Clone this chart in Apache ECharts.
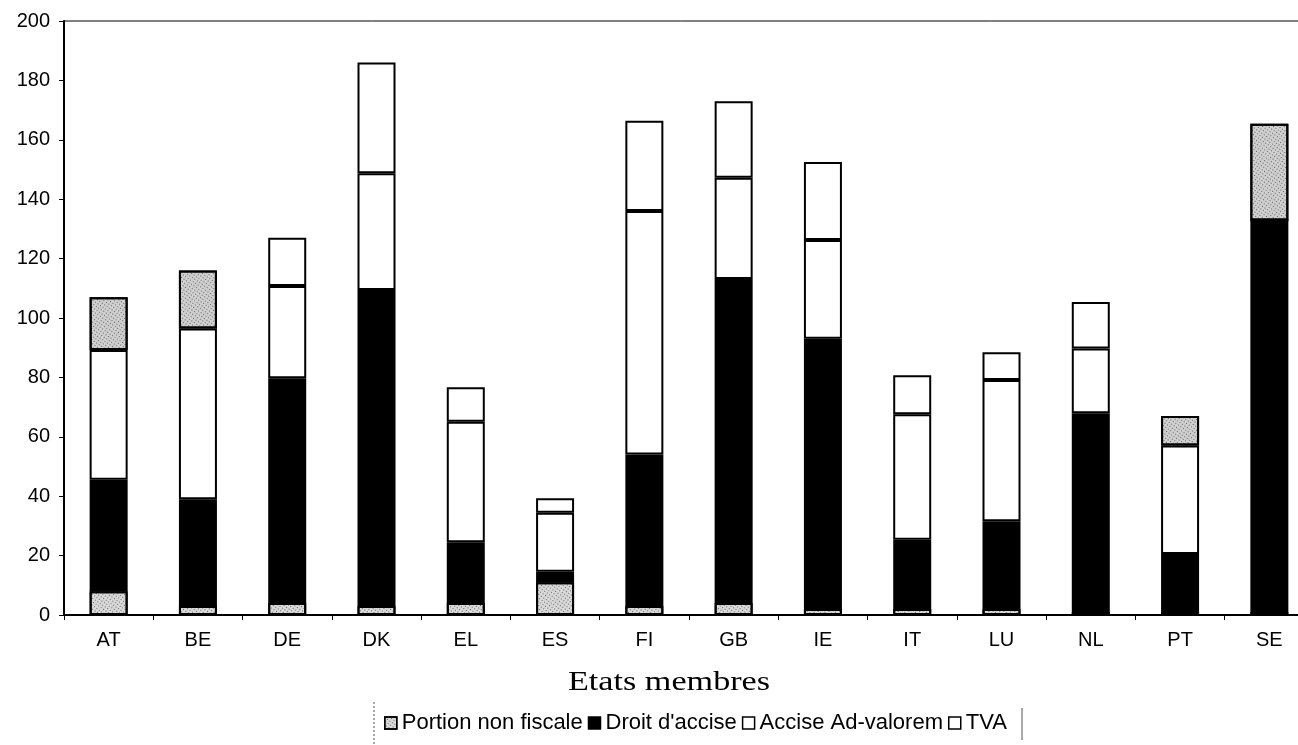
<!DOCTYPE html>
<html>
<head>
<meta charset="utf-8">
<script src="https://cdn.jsdelivr.net/npm/echarts@6/dist/echarts.min.js"></script>
<style>
  html, body { margin: 0; padding: 0; background: #fff; }
  #chart { width: 1298px; height: 745px; }
</style>
</head>
<body>
<div id="chart"></div>
<script>
// Etats membres
const pays = ['AT', 'BE', 'DE', 'DK', 'EL', 'ES', 'FI', 'GB', 'IE', 'IT', 'LU', 'NL', 'PT', 'SE'];

// segments empilés (bas -> haut)
const portionNonFiscale = [8, 3, 4, 3, 4, 11, 3, 4, 2, 2, 2, 1, 1, 1];
const droitAccise = [37.5, 36, 75.7, 106.4, 20.5, 3.6, 51, 109.1, 91, 23.3, 29.6, 66.9, 19.5, 131.8];
const acciseAdValorem = [43.7, 57.5, 31.1, 39.3, 40.6, 19.8, 82, 34.1, 33.3, 42.3, 47.5, 21.8, 36.6, 0];
const tva = [17.8, 19.5, 16.2, 37.3, 11.6, 4.9, 30.4, 25.8, 26.2, 13.1, 9.4, 15.7, 9.9, 32.6];

// pays dont la tranche TVA apparaît tramée sur l'original
const tvaTramee = ['AT', 'BE', 'PT', 'SE'];

const yTicks = [0, 20, 40, 60, 80, 100, 120, 140, 160, 180, 200];

const trame = {
  symbol: 'rect',
  symbolSize: 1,
  color: 'rgba(0,0,0,0.55)',
  dashArrayX: [1, 2],
  dashArrayY: [1, 2],
  rotation: 0.6
};

const chart = echarts.init(document.getElementById('chart'), null, { renderer: 'canvas' });

const bordure = { borderColor: '#000', borderWidth: 2 };

chart.setOption({
  animation: false,
  backgroundColor: '#fff',
  textStyle: { fontFamily: 'Liberation Sans, Arial, sans-serif', color: '#000' },
  grid: {
    left: 64,
    top: 21,
    bottom: 130,
    width: 1250,
    show: true,
    borderColor: '#000',
    borderWidth: 1,
    containLabel: false,
    outerBoundsMode: 'none'
  },
  legend: {
    left: 379,
    top: 707,
    itemWidth: 12,
    itemHeight: 12,
    itemGap: 5,
    icon: 'rect',
    textStyle: { fontSize: 22, color: '#000', fontFamily: 'Liberation Sans, Arial, sans-serif' },
    itemStyle: { borderColor: '#000', borderWidth: 1.5 },
    data: ['Portion non fiscale', "Droit d'accise", 'Accise Ad-valorem', 'TVA']
  },
  graphic: [
    {
      type: 'text',
      x: 568,
      y: 669,
      scaleX: 1.22,
      style: {
        text: 'Etats membres',
        font: '28px "Liberation Serif", "Times New Roman", serif',
        fill: '#000'
      }
    },
    {
      type: 'line',
      shape: { x1: 374, y1: 702, x2: 374, y2: 745 },
      style: { stroke: '#555', lineWidth: 1, lineDash: [2, 2] }
    },
    {
      type: 'line',
      shape: { x1: 1022, y1: 708, x2: 1022, y2: 740 },
      style: { stroke: '#555', lineWidth: 1 }
    }
  ],
  xAxis: {
    type: 'category',
    data: pays,
    axisLine: { show: true, lineStyle: { color: '#000', width: 2 } },
    axisTick: { show: true, length: 5, lineStyle: { color: '#000' } },
    axisLabel: { fontSize: 20, color: '#000', margin: 15 },
    splitLine: { show: false }
  },
  yAxis: {
    type: 'value',
    min: yTicks[0],
    max: yTicks[yTicks.length - 1],
    interval: 20,
    axisLine: { show: true, lineStyle: { color: '#000', width: 2 } },
    axisTick: { show: true, length: 5, lineStyle: { color: '#000' } },
    axisLabel: { fontSize: 20, color: '#000', margin: 14 },
    splitLine: { show: false }
  },
  series: [
    {
      name: 'Portion non fiscale',
      type: 'bar',
      stack: 'total',
      barWidth: 38,
      itemStyle: Object.assign({ color: '#d9d9d9', decal: trame }, bordure),
      data: portionNonFiscale
    },
    {
      name: "Droit d'accise",
      type: 'bar',
      stack: 'total',
      barWidth: 38,
      itemStyle: Object.assign({ color: '#000' }, bordure),
      data: droitAccise
    },
    {
      name: 'Accise Ad-valorem',
      type: 'bar',
      stack: 'total',
      barWidth: 38,
      itemStyle: Object.assign({ color: '#fff' }, bordure),
      data: acciseAdValorem
    },
    {
      name: 'TVA',
      type: 'bar',
      stack: 'total',
      barWidth: 38,
      itemStyle: Object.assign({ color: '#fff' }, bordure),
      data: tva.map((v, i) => tvaTramee.includes(pays[i])
        ? { value: v, itemStyle: { color: '#d0d0d0', decal: trame } }
        : v)
    }
  ]
});
</script>
</body>
</html>
